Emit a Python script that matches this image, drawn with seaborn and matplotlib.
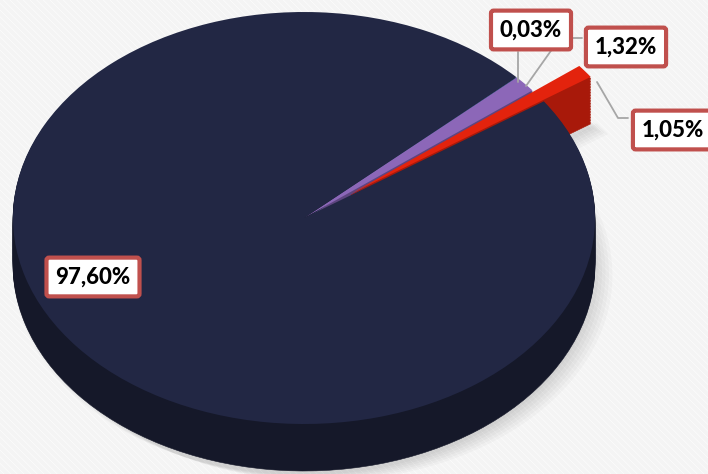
import matplotlib
matplotlib.use("Agg")
import matplotlib.pyplot as plt
import seaborn as sns
from matplotlib.patches import Rectangle

sns.set_theme(style="white")
plt.rcParams['font.family'] = ['Lato', 'DejaVu Sans']
plt.rcParams['hatch.linewidth'] = 3.0

# Data (counter-clockwise order starting at the exploded red slice)
labels = ["1,05%", "1,32%", "0,03%", "97,60%"]
values = [1.05, 1.32, 0.03, 97.60]
top_colors = ["#e3230d", "#8c67b8", "#4f81bd", "#222744"]
side_colors = ["#a8190a", "#5e4580", "#34557f", "#151829"]
explode = [0.2, 0, 0, 0]

W, H = 708, 474
fig = plt.figure(figsize=(W / 100, H / 100), dpi=100)

# background with faint diagonal stripes
bg = fig.add_axes([0, 0, 1, 1])
bg.set_xlim(0, W); bg.set_ylim(H, 0); bg.axis("off")
bg.add_patch(Rectangle((0, 0), W, H, facecolor="white", edgecolor="#f4f4f4",
                       hatch="\\\\\\\\\\", linewidth=0))

# pie axes: unit circle mapped onto the top ellipse
cx, cy, rx, ry = 304, 218, 291, 206
depth = 47
ax = fig.add_axes([(cx - rx) / W, (H - cy - ry) / H, 2 * rx / W, 2 * ry / H])

start = 34.5
dy = depth / ry
# soft shadow
for k in range(6):
    w, _ = ax.pie(values, startangle=start, explode=explode,
                  center=(0.012 * k, -dy - 0.02 - 0.006 * k),
                  colors=["#000000"] * 4, wedgeprops=dict(linewidth=0, alpha=0.025))
    for p in w:
        p.set_clip_on(False)
# side layers
n = 30
for i in range(n, 0, -1):
    off = dy * i / n
    w, _ = ax.pie(values, startangle=start, explode=explode, center=(0, -off),
                  colors=side_colors, wedgeprops=dict(linewidth=0.4))
    for p, c in zip(w, side_colors):
        p.set_edgecolor(c)
        p.set_clip_on(False)
# top face
w, _ = ax.pie(values, startangle=start, explode=explode, colors=top_colors,
              wedgeprops=dict(linewidth=0))
for p in w:
    p.set_clip_on(False)
ax.set_aspect("auto")
ax.set_xlim(-1, 1); ax.set_ylim(-1, 1)
ax.axis("off")

# overlay for labels in pixel coordinates
ov = fig.add_axes([0, 0, 1, 1], zorder=5)
ov.set_xlim(0, W); ov.set_ylim(H, 0); ov.axis("off")
ov.patch.set_alpha(0)

line_kw = dict(color="#a6a6a6", linewidth=1.3)
# connectors
ov.plot([518, 518], [52, 82], **line_kw)
ov.plot([582, 560, 526], [38, 38, 86], **line_kw)
ov.plot([597, 618, 628], [82, 118, 118], **line_kw)

box = dict(boxstyle="round,pad=0.4,rounding_size=0.12", facecolor="white",
           edgecolor="#c0504d", linewidth=3)
txt_kw = dict(fontsize=16, fontweight=900, color="black", ha="center", va="center", bbox=box)
label_pos = {"0,03%": (531, 30), "1,32%": (626, 47), "1,05%": (673, 130), "97,60%": (93, 277)}
for lab in labels:
    x, y = label_pos[lab]
    ov.text(x, y, lab, **txt_kw)

fig.savefig("out.png", dpi=100)
